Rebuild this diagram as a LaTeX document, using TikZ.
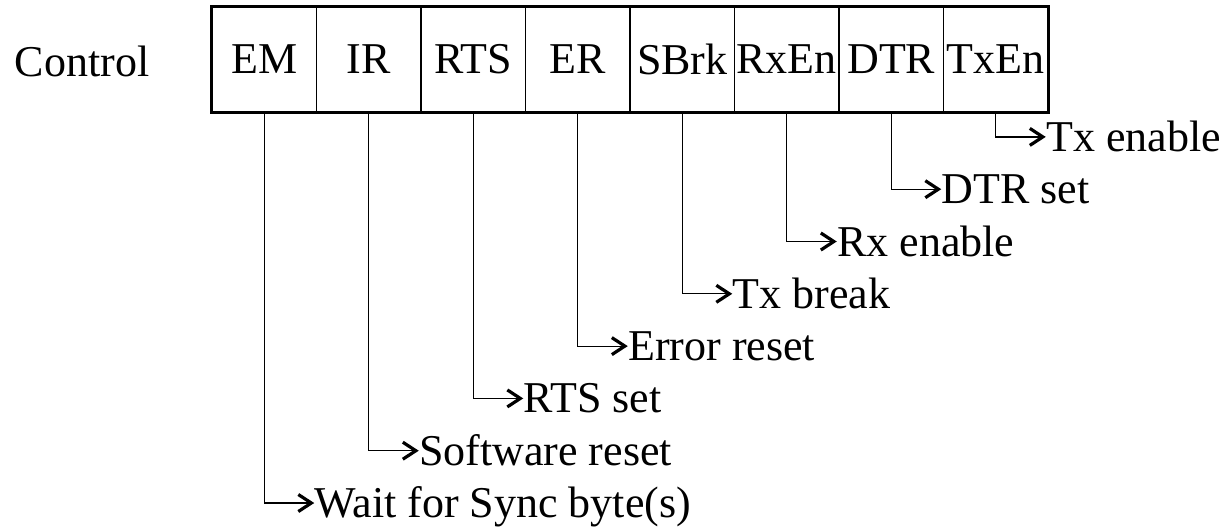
\documentclass[tikz,border=0pt]{standalone}
\usepackage{fontspec}
\setmainfont{Liberation Serif}
\usetikzlibrary{arrows.meta}
\begin{document}
\begin{tikzpicture}[x=0.5pt,y=-0.5pt,font=\fontsize{22}{26}\selectfont]
    \tikzset{cell/.style={draw,line width=0.6pt,minimum width=52.25pt,minimum height=52.5pt,inner sep=0pt},
             bitlabel/.style={anchor=west,inner sep=0pt,text height=14.5pt,text depth=0pt},
             conn/.style={line width=0.6pt,-{Straight Barb[length=6.5pt,width=8.5pt,line width=1.6pt]}}};
    \useasboundingbox (0,0) rectangle (1230,531);
    
    \node (ctrl) at (82,61) {Control};
    
    \foreach [count=\i] \nm/\txt/\desc in {em/EM/Wait for Sync byte(s), ir/IR/Software reset, rts/RTS/RTS set, er/ER/Error reset, sbrk/SBrk/Tx break, rxen/RxEn/Rx enable, dtr/DTR/DTR set, txen/TxEn/Tx enable} {
        \pgfmathsetmacro\cx{212+104.5*(\i-0.5)}
        \pgfmathsetmacro\ly{503-52.3*(\i-1)}
        \node[cell] (\nm) at (\cx,59.5) {\txt};
        \node[bitlabel] (\nm-d) at (\cx+50,\ly) {\desc};
        \draw[conn] (\nm.south) |- (\nm-d.west);
    }
    
    \draw[line width=1pt] (em.north west) rectangle (txen.south east);
\end{tikzpicture}
\end{document}
